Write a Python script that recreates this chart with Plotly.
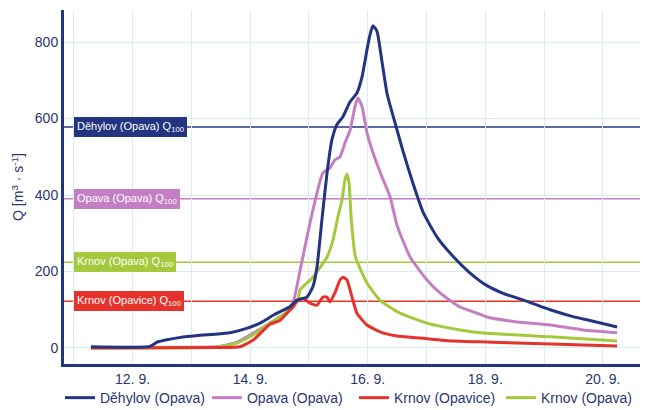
import plotly.graph_objects as go

# ---- data ----
dehylov_t = ["2024-09-11 07:00", "2024-09-12 07:00", "2024-09-12 10:00", "2024-09-12 13:00",
             "2024-09-12 19:00", "2024-09-13 03:30", "2024-09-13 09:36", "2024-09-13 15:42",
             "2024-09-13 21:54", "2024-09-14 04:00", "2024-09-14 10:06", "2024-09-14 16:12",
             "2024-09-14 19:06", "2024-09-14 23:12", "2024-09-15 01:36", "2024-09-15 03:18",
             "2024-09-15 05:18", "2024-09-15 07:24", "2024-09-15 09:24", "2024-09-15 11:24",
             "2024-09-15 13:54", "2024-09-15 16:48", "2024-09-15 19:36", "2024-09-15 21:42",
             "2024-09-15 23:42", "2024-09-16 00:54", "2024-09-16 02:06", "2024-09-16 03:48",
             "2024-09-16 05:48", "2024-09-16 07:54", "2024-09-16 11:06", "2024-09-16 14:24",
             "2024-09-16 18:30", "2024-09-16 22:36", "2024-09-17 04:18", "2024-09-17 10:48",
             "2024-09-17 17:48", "2024-09-18 00:42", "2024-09-18 07:18", "2024-09-18 17:06",
             "2024-09-19 02:30", "2024-09-19 11:48", "2024-09-19 20:00", "2024-09-20 05:48"]
dehylov_q = [3, 4, 15, 20, 27, 33, 36, 40, 50, 65, 88, 108, 125, 133, 160, 212, 335, 458, 545,
             584, 605, 644, 667, 710, 780, 818, 843, 828, 750, 665, 590, 515, 430, 355, 290,
             240, 196, 163, 143, 122, 100, 82, 70, 55]

opava_t = ["2024-09-11 07:00", "2024-09-13 03:30", "2024-09-13 11:36", "2024-09-13 18:36",
           "2024-09-14 01:06", "2024-09-14 08:06", "2024-09-14 12:12", "2024-09-14 15:00",
           "2024-09-14 17:30", "2024-09-14 20:18", "2024-09-14 23:12", "2024-09-15 01:36",
           "2024-09-15 05:42", "2024-09-15 08:36", "2024-09-15 10:36", "2024-09-15 12:42",
           "2024-09-15 14:42", "2024-09-15 16:48", "2024-09-15 18:48", "2024-09-15 20:00",
           "2024-09-15 21:42", "2024-09-15 23:42", "2024-09-16 02:12", "2024-09-16 05:48",
           "2024-09-16 09:06", "2024-09-16 12:00", "2024-09-16 17:18", "2024-09-17 00:12",
           "2024-09-17 05:30", "2024-09-17 13:42", "2024-09-17 21:54", "2024-09-18 00:42",
           "2024-09-18 13:00", "2024-09-19 02:30", "2024-09-19 15:54", "2024-09-20 05:48"]
opava_q = [1, 2, 4, 15, 38, 65, 81, 91, 117, 200, 290, 360, 458, 471, 492, 500, 536, 570,
           631, 654, 631, 563, 510, 448, 396, 320, 238, 178, 144, 107, 88, 81, 68, 60, 47, 40]

krnov_opavice_t = ["2024-09-11 07:00", "2024-09-13 11:36", "2024-09-13 19:48", "2024-09-14 01:06",
                   "2024-09-14 08:06", "2024-09-14 12:12", "2024-09-14 15:00", "2024-09-14 17:30",
                   "2024-09-14 19:06", "2024-09-14 21:30", "2024-09-15 00:24", "2024-09-15 03:18",
                   "2024-09-15 05:42", "2024-09-15 07:24", "2024-09-15 08:36", "2024-09-15 10:36",
                   "2024-09-15 12:42", "2024-09-15 13:54", "2024-09-15 15:30", "2024-09-15 17:36",
                   "2024-09-15 19:36", "2024-09-15 23:42", "2024-09-16 05:00", "2024-09-16 12:00",
                   "2024-09-16 21:18", "2024-09-17 10:48", "2024-09-17 21:54", "2024-09-18 13:00",
                   "2024-09-20 05:48"]
krnov_opavice_q = [0, 1, 3, 20, 62, 72, 91, 107, 122, 130, 117, 112, 133, 133, 120, 144, 178,
                   185, 178, 133, 91, 60, 42, 31, 26, 18, 16, 13, 5]

krnov_opava_t = ["2024-09-11 07:00", "2024-09-13 11:36", "2024-09-13 18:36", "2024-09-14 01:06",
                 "2024-09-14 08:06", "2024-09-14 15:00", "2024-09-14 19:30", "2024-09-14 20:18",
                 "2024-09-15 01:36", "2024-09-15 07:24", "2024-09-15 09:48", "2024-09-15 11:48",
                 "2024-09-15 13:30", "2024-09-15 14:42", "2024-09-15 15:30", "2024-09-15 16:24",
                 "2024-09-15 17:18", "2024-09-15 19:00", "2024-09-15 23:42",
                 "2024-09-16 05:00", "2024-09-16 13:12", "2024-09-17 00:12", "2024-09-17 13:42",
                 "2024-09-17 23:06", "2024-09-19 02:30", "2024-09-20 05:48"]
krnov_opava_q = [0, 3, 13, 34, 65, 94, 125, 151, 185, 238, 282, 342, 387, 440, 455, 430,
                 335, 238, 170, 125, 91, 65, 47, 39, 29, 18]

series_names = ["Děhylov (Opava)", "Opava (Opava)", "Krnov (Opavice)", "Krnov (Opava)"]
series_colors = ["#233480", "#c47fc4", "#e5332c", "#a5c93d"]

q100_labels = ["Děhylov (Opava) Q<sub>100</sub>", "Opava (Opava) Q<sub>100</sub>",
               "Krnov (Opava) Q<sub>100</sub>", "Krnov (Opavice) Q<sub>100</sub>"]
q100_values = [578, 390, 224, 122]
q100_colors = ["#233480", "#c47fc4", "#a5c93d", "#e5332c"]

x_tick_vals = ["2024-09-12", "2024-09-14", "2024-09-16", "2024-09-18", "2024-09-20"]
x_tick_text = ["12. 9.", "14. 9.", "16. 9.", "18. 9.", "20. 9."]
y_tick_vals = [0, 200, 400, 600, 800]

NAVY = "#233480"
TEXT = "#2b3670"
GRID = "#d8edf0"
FONT = "Liberation Sans, Arial, sans-serif"

fig = go.Figure()

for v, c in zip(q100_values, q100_colors):
    fig.add_shape(type="line", xref="paper", x0=0, x1=1, yref="y", y0=v, y1=v,
                  line=dict(color=c, width=1.5), layer="below")

series = [(dehylov_t, dehylov_q), (opava_t, opava_q),
          (krnov_opavice_t, krnov_opavice_q), (krnov_opava_t, krnov_opava_q)]
traces = {}
for i, (t, q) in enumerate(series):
    traces[i] = go.Scatter(x=t, y=q, mode="lines", name=series_names[i], legendrank=i + 1,
                           line=dict(color=series_colors[i], width=3, shape="spline",
                                     smoothing=0.5))
for i in [1, 3, 2, 0]:
    fig.add_trace(traces[i])

for lab, v, c in zip(q100_labels, q100_values, q100_colors):
    fig.add_annotation(x="2024-09-11 00:00", y=v, xref="x", yref="y", text=lab,
                       showarrow=False, xanchor="left", yanchor="middle",
                       bgcolor=c, bordercolor=c, borderpad=2,
                       font=dict(color="white", size=11, family=FONT))

# the page body has an 8px margin, so the figure is 642x402 inside the 650x410 window
fig.update_layout(
    width=642, height=402,
    margin=dict(l=56, r=10, t=2, b=46, autoexpand=False),
    paper_bgcolor="white", plot_bgcolor="white",
    font=dict(family=FONT, color=TEXT, size=14),
    showlegend=True,
    legend=dict(orientation="h", x=-0.007, xanchor="left", y=-0.051, yanchor="top",
                font=dict(size=14, color=TEXT), traceorder="normal",
                entrywidth=102, entrywidthmode="pixels",
                bgcolor="rgba(0,0,0,0)"),
    xaxis=dict(type="date", range=["2024-09-10 20:00", "2024-09-20 15:10"],
               tickvals=x_tick_vals, ticktext=x_tick_text, ticks="",
               showgrid=True, gridcolor=GRID, gridwidth=1,
               minor=dict(dtick=86400000, tick0="2024-09-11", showgrid=True,
                          gridcolor=GRID, gridwidth=1),
               showline=True, linecolor=NAVY, linewidth=3, zeroline=False,
               automargin=False, tickfont=dict(size=14, color=TEXT)),
    yaxis=dict(range=[-42, 884], tickvals=y_tick_vals, ticks="",
               showgrid=True, gridcolor=GRID, gridwidth=1,
               showline=True, linecolor=NAVY, linewidth=3, zeroline=False,
               automargin=False, tickfont=dict(size=14, color=TEXT),
               title=dict(text="Q [m<sup>3</sup> · s<sup>-1</sup>]",
                          font=dict(size=14, color=TEXT), standoff=8)),
)

fig.write_html("out.html")
